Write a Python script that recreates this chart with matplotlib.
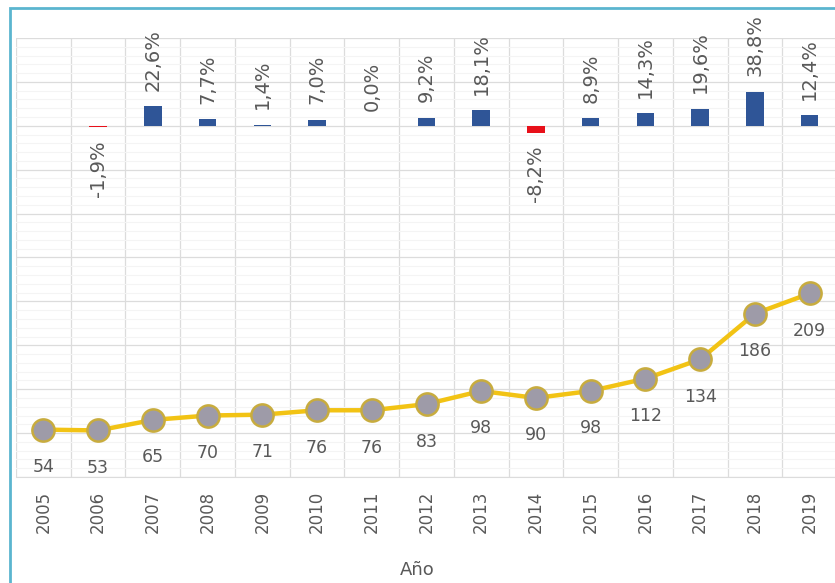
import numpy as np
import matplotlib
matplotlib.use("Agg")
import matplotlib.pyplot as plt
from matplotlib.patches import Rectangle

# data
years = ['2005', '2006', '2007', '2008', '2009', '2010', '2011', '2012',
         '2013', '2014', '2015', '2016', '2017', '2018', '2019']
valores = [54, 53, 65, 70, 71, 76, 76, 83, 98, 90, 98, 112, 134, 186, 209]
variacion = [None, -1.9, 22.6, 7.7, 1.4, 7.0, 0.0, 9.2, 18.1, -8.2, 8.9, 14.3, 19.6, 38.8, 12.4]

gray_txt = '#595959'
blue = '#2F5597'
red = '#E8101A'
gold = '#F2C314'

fig = plt.figure(figsize=(8.35, 5.83), dpi=100)
ax1 = fig.add_axes([16 / 835, 106 / 583, 821 / 835, 439 / 583])
ax2 = ax1.twinx()

x = np.arange(len(years))

# bars - yearly % change
for i, v in enumerate(variacion):
    if v is None:
        continue
    col = red if v < 0 else blue
    ax1.bar(x[i], v, width=0.32, color=col, zorder=3)
    lab = f"{v:.1f}%".replace('.', ',')
    if v < 0:
        ax1.annotate(lab, (x[i], v), xytext=(0, -9), textcoords='offset points',
                     rotation=90, ha='center', va='top', color=gray_txt, fontsize=14)
    else:
        ax1.annotate(lab, (x[i], v), xytext=(0, 11), textcoords='offset points',
                     rotation=90, ha='center', va='bottom', color=gray_txt, fontsize=14)

ax1.set_ylim(-400, 100)
ax1.set_yticks(np.arange(-400, 101, 50))
ax1.set_yticks(np.arange(-400, 101, 10), minor=True)
ax1.set_xlim(-0.5, len(years) - 0.5)
ax1.set_xticks(x)
ax1.set_xticks(np.arange(-0.5, len(years), 1), minor=True)
ax1.set_xticklabels(years, rotation=90, color=gray_txt, fontsize=12)
ax1.tick_params(axis='x', which='both', length=0, pad=10)
ax1.tick_params(axis='y', which='both', length=0, labelleft=False)
ax1.grid(which='major', axis='y', color='#DCDCDC', lw=0.9, zorder=0)
ax1.grid(which='minor', axis='y', color='#F4F4F4', lw=0.8, zorder=0)
ax1.grid(which='minor', axis='x', color='#DCDCDC', lw=0.9, zorder=0)
ax1.set_axisbelow(True)

# line - values
ax2.plot(x, valores, color=gold, lw=3.2, marker='o', markersize=16,
         markerfacecolor='#9E9BA8', markeredgecolor='#C8AC3E', markeredgewidth=1.8, zorder=4)
for xi, v in zip(x, valores):
    ax2.annotate(str(v), (xi, v), xytext=(0, -27), textcoords='offset points',
                 ha='center', va='center', color=gray_txt, fontsize=12.5)
ax2.set_ylim(0, 500)
ax2.set_yticks([])
ax2.tick_params(axis='y', length=0, labelright=False)

for a in (ax1, ax2):
    for s in a.spines.values():
        s.set_visible(False)
ax1.spines['bottom'].set_visible(True)
ax1.spines['bottom'].set_color('#DCDCDC')

fig.text(0.5, 1 - 570 / 583, 'Año', ha='center', va='center', color=gray_txt, fontsize=13)

# light blue frame around the chart
fig.patches.append(Rectangle((10 / 835, -0.1), 1.2, 1.1 - 8 / 583, transform=fig.transFigure,
                             fill=False, edgecolor='#5BB5CF', lw=2))

plt.savefig("out.png", dpi=100)
